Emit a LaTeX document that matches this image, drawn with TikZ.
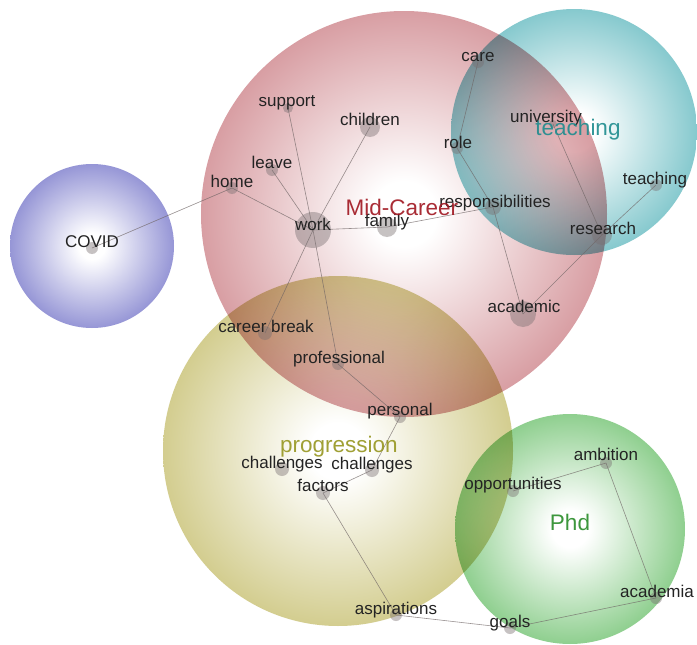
\documentclass[tikz,border=0pt]{standalone}
\usepackage{fontspec}
\setmainfont{Liberation Sans}
\definecolor{redc}{RGB}{216,158,163}
\definecolor{tealc}{RGB}{134,201,206}
\definecolor{olivec}{RGB}{211,205,143}
\definecolor{greenc}{RGB}{143,207,143}
\definecolor{bluec}{RGB}{150,150,214}
\definecolor{redt}{RGB}{160,22,32}
\definecolor{tealt}{RGB}{30,140,142}
\definecolor{olivet}{RGB}{150,150,32}
\definecolor{greent}{RGB}{40,140,40}
\definecolor{labc}{RGB}{35,35,35}
\definecolor{dotc}{RGB}{120,110,112}
\definecolor{edgec}{RGB}{110,100,100}
\pgfdeclareradialshading{shred}{\pgfpoint{0bp}{0bp}}{color(0bp)=(white); color(4bp)=(white); color(25bp)=(redc); color(50bp)=(redc)}
\pgfdeclareradialshading{shteal}{\pgfpoint{0bp}{0bp}}{color(0bp)=(white); color(4bp)=(white); color(25bp)=(tealc); color(50bp)=(tealc)}
\pgfdeclareradialshading{sholive}{\pgfpoint{0bp}{0bp}}{color(0bp)=(white); color(4bp)=(white); color(25bp)=(olivec); color(50bp)=(olivec)}
\pgfdeclareradialshading{shgreen}{\pgfpoint{0bp}{0bp}}{color(0bp)=(white); color(4bp)=(white); color(25bp)=(greenc); color(50bp)=(greenc)}
\pgfdeclareradialshading{shblue}{\pgfpoint{0bp}{0bp}}{color(0bp)=(white); color(4bp)=(white); color(25bp)=(bluec); color(50bp)=(bluec)}
\pgfdeclarelayer{bgc}
\pgfdeclarelayer{edg}
\pgfsetlayers{bgc,edg,main}
\begin{document}
\begin{tikzpicture}[x=1pt,y=-1pt,
  gdot/.style={circle,inner sep=0pt,minimum size=#1,fill=dotc,fill opacity=0.42,draw=none},
  lab/.style={font=\fontsize{17}{19}\selectfont,text=labc,inner sep=0pt,anchor=base},
  clab/.style={font=\fontsize{22.5}{25}\selectfont,inner sep=0pt,anchor=base,text opacity=0.9},
  edge/.style={draw=edgec,line width=0.6pt,draw opacity=0.7},
  blob/.style={shading=#1,blend mode=multiply}]
\useasboundingbox (0,0) rectangle (697,645);
\begin{pgfonlayer}{bgc}
\fill[white] (0,0) rectangle (697,645);
\shade[blob=sholive] (338,451) circle[radius=175pt];
\shade[blob=shgreen] (570,529) circle[radius=115pt];
\shade[blob=shblue] (92,246) circle[radius=82pt];
\shade[blob=shred] (404,214) circle[radius=203pt];
\shade[blob=shteal] (574,132) circle[radius=123pt];
\end{pgfonlayer}
% dots
\node[gdot=12pt] (covid) at (92,248) {};
\node[gdot=12pt] (home) at (232,188) {};
\node[gdot=12pt] (leave) at (272,170) {};
\node[gdot=10pt] (support) at (288,108) {};
\node[gdot=20pt] (children) at (370,127) {};
\node[gdot=36pt] (work) at (313,230) {};
\node[gdot=20pt] (family) at (387,227) {};
\node[gdot=16pt] (resp) at (493,207) {};
\node[gdot=12pt] (role) at (457,148) {};
\node[gdot=12pt] (care) at (478,62) {};
\node[gdot=8pt] (univ) at (553,124) {};
\node[gdot=12pt] (teachn) at (656,185) {};
\node[gdot=20pt] (research) at (602,235) {};
\node[gdot=26pt] (academic) at (523,314) {};
\node[gdot=14pt] (cbreak) at (265,333) {};
\node[gdot=12pt] (prof) at (338,364) {};
\node[gdot=12pt] (personal) at (400,417) {};
\node[gdot=14pt] (chalA) at (282,469) {};
\node[gdot=14pt] (chalB) at (372,470) {};
\node[gdot=14pt] (factors) at (323,493) {};
\node[gdot=12pt] (aspir) at (396,615) {};
\node[gdot=12pt] (goals) at (510,628) {};
\node[gdot=12pt] (acadia) at (656,598) {};
\node[gdot=12pt] (ambition) at (606,463) {};
\node[gdot=12pt] (opport) at (513,491) {};
% edges
\begin{pgfonlayer}{edg}
\draw[edge] (covid.center) -- (home.center);
\draw[edge] (home.center) -- (work.center);
\draw[edge] (leave.center) -- (work.center);
\draw[edge] (support.center) -- (work.center);
\draw[edge] (children.center) -- (work.center);
\draw[edge] (work.center) -- (family.center);
\draw[edge] (family.center) -- (resp.center);
\draw[edge] (care.center) -- (role.center);
\draw[edge] (role.center) -- (resp.center);
\draw[edge] (resp.center) -- (academic.center);
\draw[edge] (univ.center) -- (research.center);
\draw[edge] (teachn.center) -- (research.center);
\draw[edge] (research.center) -- (academic.center);
\draw[edge] (work.center) -- (cbreak.center);
\draw[edge] (work.center) -- (prof.center);
\draw[edge] (prof.center) -- (personal.center);
\draw[edge] (personal.center) -- (chalB.center);
\draw[edge] (chalB.center) -- (factors.center);
\draw[edge] (factors.center) -- (aspir.center);
\draw[edge] (aspir.center) -- (goals.center);
\draw[edge] (goals.center) -- (acadia.center);
\draw[edge] (acadia.center) -- (ambition.center);
\draw[edge] (ambition.center) -- (opport.center);
\end{pgfonlayer}
% labels
\node[lab] (covidL) at (92,247) {COVID};
\node[lab] (homeL) at (232,187) {home};
\node[lab] (leaveL) at (272,168) {leave};
\node[lab] (supportL) at (287,106) {support};
\node[lab] (childrenL) at (370,125) {children};
\node[lab] (workL) at (313,230) {work};
\node[lab] (familyL) at (387,226) {family};
\node[lab] (respL) at (495,207) {responsibilities};
\node[lab] (roleL) at (458,148) {role};
\node[lab] (careL) at (478,61) {care};
\node[lab] (univL) at (546,122) {university};
\node[lab] (teachnL) at (655,184) {teaching};
\node[lab] (researchL) at (603,234) {research};
\node[lab] (academicL) at (524,312) {academic};
\node[lab] (cbreakL) at (266,332) {career break};
\node[lab] (profL) at (339,363) {professional};
\node[lab] (personalL) at (400,415) {personal};
\node[lab] (chalAL) at (282,468) {challenges};
\node[lab] (chalBL) at (372,469) {challenges};
\node[lab] (factorsL) at (323,491) {factors};
\node[lab] (aspirL) at (396,614) {aspirations};
\node[lab] (goalsL) at (510,627) {goals};
\node[lab] (acadiaL) at (657,597) {academia};
\node[lab] (ambitionL) at (606,460) {ambition};
\node[lab] (opportL) at (513,489) {opportunities};
% cluster labels
\node[clab,text=redt] (midL) at (402,215) {Mid-Career};
\node[clab,text=tealt] (teachL) at (578,135) {teaching};
\node[clab,text=olivet] (progL) at (339,452) {progression};
\node[clab,text=greent] (phdL) at (570,530) {Phd};
\end{tikzpicture}
\end{document}
